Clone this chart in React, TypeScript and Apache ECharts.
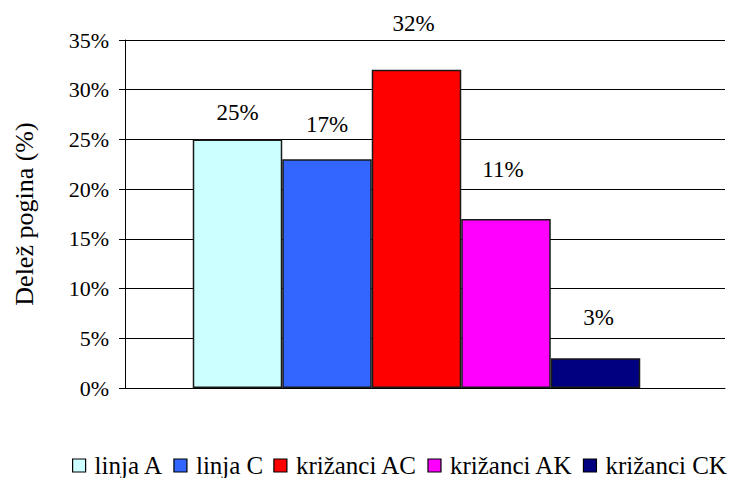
import React, { useEffect, useRef } from "react";
import * as echarts from "echarts";

const seriesNames = ["linja A", "linja C", "križanci AC", "križanci AK", "križanci CK"];
const seriesValues = [25, 23, 32, 17, 3];
const labelTexts = ["25%", "17%", "32%", "11%", "3%"];
const yTicks = { min: 0, max: 35, interval: 5 };

const colors = ["#CCFFFF", "#3366FF", "#FF0000", "#FF00FF", "#000080"];
const labelOffsets: [number, number][] = [
  [0, -15],
  [0, -23],
  [-3, -35],
  [-3, -38],
  [3, -29],
];
const FONT = "Liberation Serif";

export default function App() {
  const ref = useRef<HTMLDivElement>(null);
  useEffect(() => {
    if (!ref.current) return;
    const chart = echarts.init(ref.current, null, { renderer: "svg" });
    const series: any[] = seriesNames.map((name, i) => ({
      name,
      type: "bar",
      xAxisIndex: 1,
      yAxisIndex: 1,
      data: [seriesValues[i]],
      barWidth: 89.5,
      barGap: "0%",
      itemStyle: { color: colors[i], borderColor: "#1a1a1a", borderWidth: 1.5 },
      label: {
        show: true,
        position: "top",
        distance: 0,
        offset: labelOffsets[i],
        formatter: () => labelTexts[i],
        fontFamily: FONT,
        fontSize: 23,
        color: "#000",
      },
    }));
    chart.setOption({
      animation: false,
      backgroundColor: "#fff",
      textStyle: { fontFamily: FONT },
      legend: {
        data: seriesNames,
        left: 67,
        top: 448,
        width: 700,
        itemWidth: 13,
        itemHeight: 13,
        itemGap: 10,
        icon: "rect",
        textStyle: { fontFamily: FONT, fontSize: 25, color: "#000", padding: [0, 0, 0, 4] },
        itemStyle: { borderColor: "#000", borderWidth: 1.2 },
      },
      grid: [
        { left: 125, right: 9, top: 40, bottom: 90 },
        { left: 125, right: 26, top: 40, bottom: 90 },
      ],
      xAxis: [
        {
          type: "category",
          gridIndex: 0,
          data: [""],
          axisLine: { show: true, lineStyle: { color: "#000", width: 1 } },
          axisTick: { show: false },
          axisLabel: { show: false },
        },
        {
          type: "category",
          gridIndex: 1,
          data: [""],
          show: false,
        },
      ],
      yAxis: [
        {
          type: "value",
          gridIndex: 0,
          min: yTicks.min,
          max: yTicks.max,
          interval: yTicks.interval,
          name: "Delež pogina (%)",
          nameLocation: "middle",
          nameGap: 88,
          nameTextStyle: { fontFamily: FONT, fontSize: 26, color: "#000" },
          axisLine: { show: true, lineStyle: { color: "#000", width: 1 } },
          axisTick: { show: true, length: 6, inside: false, lineStyle: { color: "#000" } },
          axisLabel: {
            formatter: "{value}%",
            margin: 16,
            fontFamily: FONT,
            fontSize: 22,
            color: "#000",
          },
          splitLine: { show: true, lineStyle: { color: "#000", width: 1 } },
        },
        {
          type: "value",
          gridIndex: 1,
          min: yTicks.min,
          max: yTicks.max,
          interval: yTicks.interval,
          show: false,
          splitLine: { show: false },
        },
      ],
      series,
    });
    return () => chart.dispose();
  }, []);
  return (
    <div
      ref={ref}
      style={{ position: "fixed", left: 0, top: 0, width: 734, height: 478, background: "#fff" }}
    />
  );
}
